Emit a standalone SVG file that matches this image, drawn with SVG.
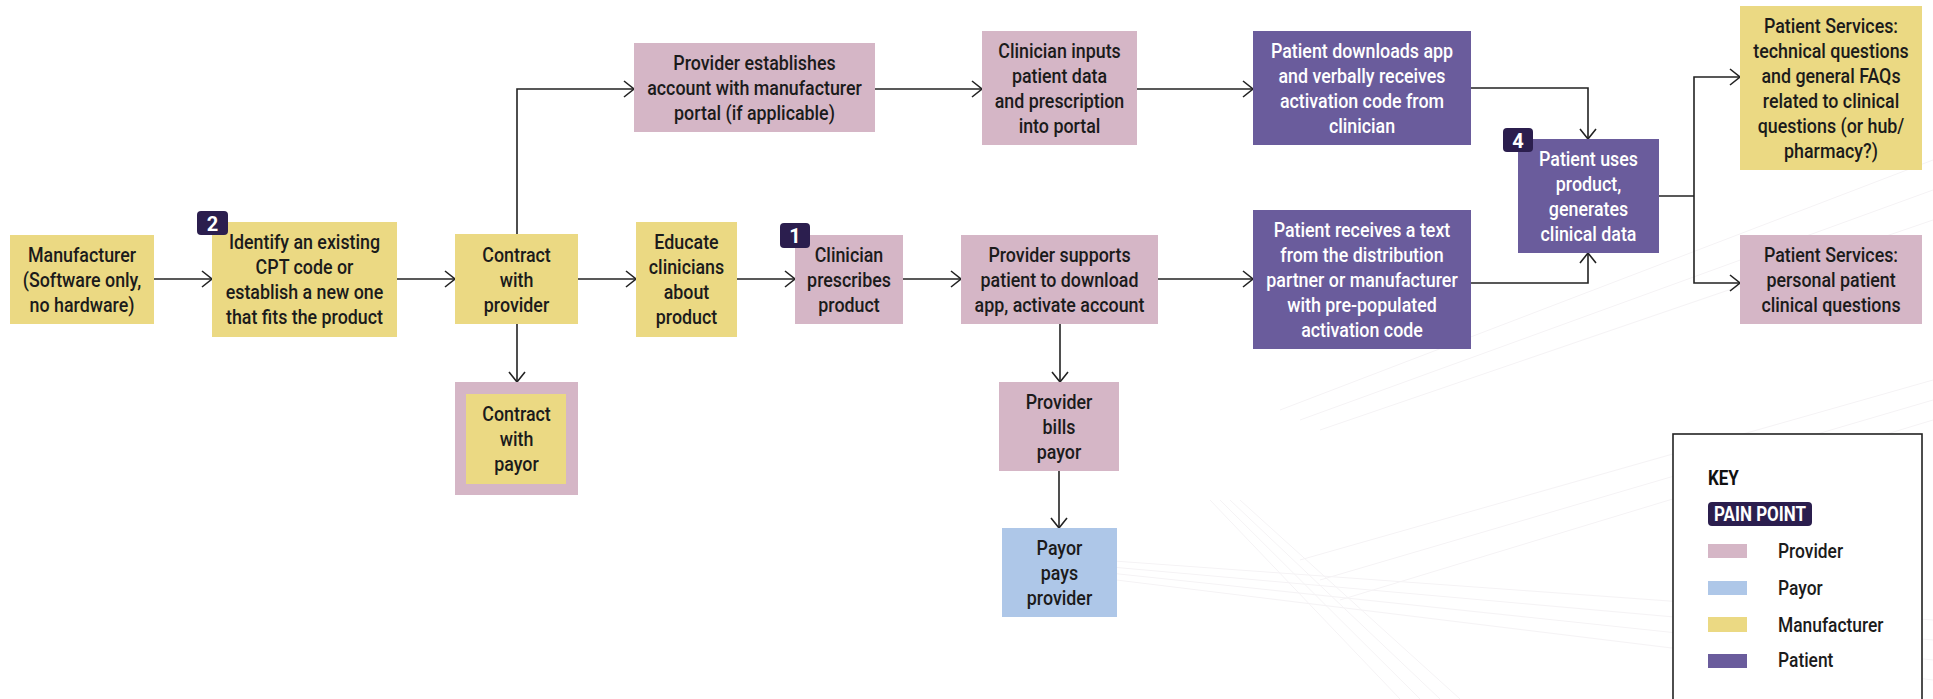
<svg xmlns="http://www.w3.org/2000/svg" width="1933" height="699" viewBox="0 0 1933 699">
<style>
.t{font-family:Roboto,"Liberation Sans",sans-serif;font-size:20.5px;font-weight:500;fill:#1b1b1b;text-anchor:middle}
.w{fill:#ffffff}
.yel{fill:#ebd983}
.pink{fill:#d5b6c6}
.pur{fill:#6a5c9c}
.blue{fill:#aec7e8}
.badge{fill:#2b1e4e}
.bt{font-family:Roboto,"Liberation Sans",sans-serif;font-size:20px;font-weight:700;fill:#ffffff;text-anchor:middle}
.con{fill:none;stroke:#222222;stroke-width:1.6}
.lg{font-family:Roboto,"Liberation Sans",sans-serif;font-size:20px;font-weight:500;fill:#1b1b1b}
</style>
<defs>
<marker id="arr" markerUnits="userSpaceOnUse" markerWidth="14" markerHeight="20" refX="11" refY="9" orient="auto">
<path d="M1,1 L11,9 L1,17" fill="none" stroke="#222222" stroke-width="1.6"/>
</marker>
</defs>
<rect width="1933" height="699" fill="#ffffff"/>
<g id="texture" fill="none" stroke="#f5f3f5" stroke-width="1">
<path d="M1100 560 L1933 620"/>
<path d="M1100 566 L1933 640"/>
<path d="M1100 572 L1933 660"/>
<path d="M1100 578 L1933 680"/>
<path d="M1210 500 L1400 699"/>
<path d="M1220 500 L1420 699"/>
<path d="M1230 500 L1440 699"/>
<path d="M1240 500 L1460 699"/>
<path d="M1300 560 L1933 380"/>
<path d="M1320 580 L1933 400"/>
<path d="M1340 600 L1933 420"/>
<path d="M1280 410 L1933 160"/>
<path d="M1300 420 L1933 190"/>
<path d="M1320 430 L1933 220"/>
</g>
<g id="connectors">
<path class="con" d="M154 279 H212" marker-end="url(#arr)"/>
<path class="con" d="M397 279 H455" marker-end="url(#arr)"/>
<path class="con" d="M578 279 H636" marker-end="url(#arr)"/>
<path class="con" d="M737 279 H795" marker-end="url(#arr)"/>
<path class="con" d="M903 279 H961" marker-end="url(#arr)"/>
<path class="con" d="M1158 279 H1253" marker-end="url(#arr)"/>
<path class="con" d="M517 324 V382" marker-end="url(#arr)"/>
<path class="con" d="M517 234 V89 H634" marker-end="url(#arr)"/>
<path class="con" d="M875 89 H982" marker-end="url(#arr)"/>
<path class="con" d="M1137 89 H1253" marker-end="url(#arr)"/>
<path class="con" d="M1471 88 H1588 V139" marker-end="url(#arr)"/>
<path class="con" d="M1471 283 H1588 V253" marker-end="url(#arr)"/>
<path class="con" d="M1659 196 H1694"/>
<path class="con" d="M1694 196 V77 H1740" marker-end="url(#arr)"/>
<path class="con" d="M1694 196 V283 H1740" marker-end="url(#arr)"/>
<path class="con" d="M1060 324 V382" marker-end="url(#arr)"/>
<path class="con" d="M1059 471 V528" marker-end="url(#arr)"/>
</g>
<g id="manufacturer">
<rect class="yel" x="10" y="235" width="144" height="89"/>
<text class="t" transform="matrix(0.87 0 0 1 82 0)"><tspan x="0" y="262">Manufacturer</tspan><tspan x="0" y="287">(Software only,</tspan><tspan x="0" y="312">no hardware)</tspan></text>
</g>
<g id="identify-cpt">
<rect class="yel" x="212" y="222" width="185" height="115"/>
<text class="t" transform="matrix(0.87 0 0 1 304.5 0)"><tspan x="0" y="249">Identify an existing</tspan><tspan x="0" y="274">CPT code or</tspan><tspan x="0" y="299">establish a new one</tspan><tspan x="0" y="324">that fits the product</tspan></text>
<rect class="badge" x="197" y="211" width="31" height="24" rx="4"/>
<text class="bt" x="212.5" y="230.5">2</text>
</g>
<g id="contract-provider">
<rect class="yel" x="455" y="234" width="123" height="90"/>
<text class="t" transform="matrix(0.87 0 0 1 516.5 0)"><tspan x="0" y="262">Contract</tspan><tspan x="0" y="287">with</tspan><tspan x="0" y="312">provider</tspan></text>
</g>
<g id="contract-payor">
<rect class="pink" x="455" y="382" width="123" height="113"/>
<rect class="yel" x="466" y="394" width="100" height="90"/>
<text class="t" transform="matrix(0.87 0 0 1 516.5 0)"><tspan x="0" y="421">Contract</tspan><tspan x="0" y="446">with</tspan><tspan x="0" y="471">payor</tspan></text>
</g>
<g id="educate">
<rect class="yel" x="636" y="222" width="101" height="115"/>
<text class="t" transform="matrix(0.87 0 0 1 686.5 0)"><tspan x="0" y="249">Educate</tspan><tspan x="0" y="274">clinicians</tspan><tspan x="0" y="299">about</tspan><tspan x="0" y="324">product</tspan></text>
</g>
<g id="clinician-prescribes">
<rect class="pink" x="795" y="235" width="108" height="89"/>
<text class="t" transform="matrix(0.87 0 0 1 849 0)"><tspan x="0" y="262">Clinician</tspan><tspan x="0" y="287">prescribes</tspan><tspan x="0" y="312">product</tspan></text>
<rect class="badge" x="780" y="223" width="30" height="25" rx="4"/>
<text class="bt" x="795" y="243">1</text>
</g>
<g id="provider-supports">
<rect class="pink" x="961" y="235" width="197" height="89"/>
<text class="t" transform="matrix(0.87 0 0 1 1059.5 0)"><tspan x="0" y="262">Provider supports</tspan><tspan x="0" y="287">patient to download</tspan><tspan x="0" y="312">app, activate account</tspan></text>
</g>
<g id="patient-receives">
<rect class="pur" x="1253" y="210" width="218" height="139"/>
<text class="t w" transform="matrix(0.87 0 0 1 1362 0)"><tspan x="0" y="237">Patient receives a text</tspan><tspan x="0" y="262">from the distribution</tspan><tspan x="0" y="287">partner or manufacturer</tspan><tspan x="0" y="312">with pre-populated</tspan><tspan x="0" y="337">activation code</tspan></text>
</g>
<g id="provider-establishes">
<rect class="pink" x="634" y="43" width="241" height="89"/>
<text class="t" transform="matrix(0.87 0 0 1 754.5 0)"><tspan x="0" y="70">Provider establishes</tspan><tspan x="0" y="95">account with manufacturer</tspan><tspan x="0" y="120">portal (if applicable)</tspan></text>
</g>
<g id="clinician-inputs">
<rect class="pink" x="982" y="31" width="155" height="114"/>
<text class="t" transform="matrix(0.87 0 0 1 1059.5 0)"><tspan x="0" y="58">Clinician inputs</tspan><tspan x="0" y="83">patient data</tspan><tspan x="0" y="108">and prescription</tspan><tspan x="0" y="133">into portal</tspan></text>
</g>
<g id="patient-downloads">
<rect class="pur" x="1253" y="31" width="218" height="114"/>
<text class="t w" transform="matrix(0.87 0 0 1 1362 0)"><tspan x="0" y="58">Patient downloads app</tspan><tspan x="0" y="83">and verbally receives</tspan><tspan x="0" y="108">activation code from</tspan><tspan x="0" y="133">clinician</tspan></text>
</g>
<g id="patient-uses">
<rect class="pur" x="1518" y="139" width="141" height="114"/>
<text class="t w" transform="matrix(0.87 0 0 1 1588.5 0)"><tspan x="0" y="166">Patient uses</tspan><tspan x="0" y="191">product,</tspan><tspan x="0" y="216">generates</tspan><tspan x="0" y="241">clinical data</tspan></text>
<rect class="badge" x="1503" y="128" width="30" height="24" rx="4"/>
<text class="bt" x="1518" y="147.5">4</text>
</g>
<g id="services-technical">
<rect class="yel" x="1740" y="6" width="182" height="164"/>
<text class="t" transform="matrix(0.87 0 0 1 1831 0)"><tspan x="0" y="33">Patient Services:</tspan><tspan x="0" y="58">technical questions</tspan><tspan x="0" y="83">and general FAQs</tspan><tspan x="0" y="108">related to clinical</tspan><tspan x="0" y="133">questions (or hub/</tspan><tspan x="0" y="158">pharmacy?)</tspan></text>
</g>
<g id="services-personal">
<rect class="pink" x="1740" y="235" width="182" height="89"/>
<text class="t" transform="matrix(0.87 0 0 1 1831 0)"><tspan x="0" y="262">Patient Services:</tspan><tspan x="0" y="287">personal patient</tspan><tspan x="0" y="312">clinical questions</tspan></text>
</g>
<g id="provider-bills">
<rect class="pink" x="999" y="382" width="120" height="89"/>
<text class="t" transform="matrix(0.87 0 0 1 1059 0)"><tspan x="0" y="409">Provider</tspan><tspan x="0" y="434">bills</tspan><tspan x="0" y="459">payor</tspan></text>
</g>
<g id="payor-pays">
<rect class="blue" x="1002" y="528" width="115" height="89"/>
<text class="t" transform="matrix(0.87 0 0 1 1059.5 0)"><tspan x="0" y="555">Payor</tspan><tspan x="0" y="580">pays</tspan><tspan x="0" y="605">provider</tspan></text>
</g>
<g id="key">
<rect x="1673" y="434" width="249" height="290" fill="#ffffff" stroke="#222222" stroke-width="1.6"/>
<text transform="matrix(0.87 0 0 1 1708 0)" x="0" y="485" style="font-family:Roboto,'Liberation Sans',sans-serif;font-size:19.5px;font-weight:700;fill:#111">KEY</text>
<rect class="badge" x="1708" y="502" width="104" height="24" rx="4"/>
<text transform="matrix(0.87 0 0 1 1760 0)" x="0" y="521" style="font-family:Roboto,'Liberation Sans',sans-serif;font-size:19.5px;font-weight:700;fill:#fff;text-anchor:middle">PAIN POINT</text>
<rect class="pink" x="1708" y="544" width="39" height="14"/>
<rect class="blue" x="1708" y="581" width="39" height="14"/>
<rect class="yel" x="1708" y="617" width="39" height="15"/>
<rect class="pur" x="1708" y="654" width="39" height="14"/>
<text class="lg" transform="matrix(0.87 0 0 1 1778 0)"><tspan x="0" y="558">Provider</tspan><tspan x="0" y="595">Payor</tspan><tspan x="0" y="632">Manufacturer</tspan><tspan x="0" y="667">Patient</tspan></text>
</g>
</svg>
